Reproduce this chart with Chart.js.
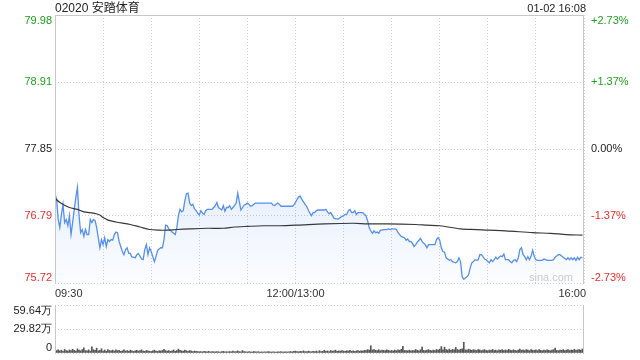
<!DOCTYPE html>
<html>
<head>
<meta charset="utf-8">
<script src="https://cdn.jsdelivr.net/npm/chart.js@4.4.1/dist/chart.umd.min.js"></script>
<style>
  html, body { margin: 0; padding: 0; background: #fff; }
  #wrap { position: relative; width: 640px; height: 360px; font-family: "Liberation Sans", Arial, "Noto Sans CJK SC", sans-serif; color: #222; }
  #priceChart { position: absolute; left: 0; top: 0; }
  #volChart { position: absolute; left: 0; top: 300px; }
  #title { position: absolute; left: 55px; top: 1px; font-size: 12px; line-height: 14px; }
  #stamp { position: absolute; right: 54px; top: 2px; font-size: 11px; line-height: 13px; }
</style>
</head>
<body>
<div id="wrap">
  <canvas id="priceChart" width="640" height="300"></canvas>
  <canvas id="volChart" width="640" height="60"></canvas>
  <div id="title">02020 安踏体育</div>
  <div id="stamp">01-02 16:08</div>
</div>
<script>
// minute by minute from 09:30 (lunch break removed), 330 minutes to 16:00
const prices = [
  77.14,77.05,76.73,76.60,76.81,76.97,76.68,76.73,76.63,76.79,
  76.49,76.68,76.89,77.08,77.24,76.79,76.52,76.57,76.46,76.57,
  76.49,76.49,76.73,76.68,76.73,76.71,76.60,76.44,76.28,76.41,
  76.33,76.44,76.30,76.41,76.38,76.41,76.40,76.49,76.53,76.52,
  76.38,76.30,76.22,76.17,76.25,76.28,76.19,76.19,76.13,76.13,
  76.12,76.17,76.19,76.15,76.10,76.09,76.25,76.33,76.17,76.28,
  76.22,76.14,76.06,76.14,76.24,76.26,76.28,76.28,76.41,76.64,
  76.63,76.58,76.56,76.53,76.51,76.49,76.60,76.79,76.89,76.85,
  76.87,77.03,77.14,77.15,76.99,76.95,76.97,76.90,76.87,76.83,
  76.80,76.87,76.83,76.81,76.87,76.89,76.89,76.89,76.89,76.92,
  76.95,77.00,76.92,76.90,76.88,76.95,76.86,76.92,76.92,76.95,
  76.89,76.92,76.95,76.99,77.15,77.01,76.88,76.92,76.96,76.97,
  76.99,76.97,76.94,76.95,76.97,76.99,76.99,76.99,76.99,76.99,
  76.99,76.99,76.99,76.99,76.99,76.99,76.96,76.95,76.97,76.99,
  76.97,76.94,76.94,76.94,76.94,76.94,76.94,76.94,76.94,76.96,
  77.00,77.05,77.09,77.10,77.05,77.01,76.97,76.94,76.88,76.83,
  76.79,76.84,76.84,76.87,76.88,76.88,76.88,76.88,76.88,76.89,
  76.85,76.82,76.84,76.80,76.75,76.74,76.74,76.74,76.76,76.78,
  76.79,76.81,76.81,76.87,76.89,76.84,76.84,76.87,76.81,76.84,
  76.84,76.84,76.84,76.81,76.79,76.71,76.60,76.55,76.51,76.55,
  76.52,76.53,76.51,76.56,76.56,76.57,76.57,76.57,76.58,76.57,
  76.58,76.58,76.58,76.57,76.52,76.49,76.46,76.45,76.44,76.40,
  76.42,76.38,76.38,76.35,76.30,76.33,76.37,76.40,76.43,76.38,
  76.35,76.33,76.28,76.33,76.33,76.33,76.33,76.33,76.41,76.44,
  76.40,76.28,76.22,76.21,76.12,76.10,76.08,76.09,76.06,76.05,
  76.04,76.06,76.12,76.06,75.82,75.78,75.80,75.82,75.85,75.96,
  76.04,76.06,76.09,76.08,76.09,76.17,76.17,76.14,76.10,76.09,
  76.06,76.04,76.09,76.06,76.09,76.13,76.10,76.13,76.15,76.14,
  76.18,76.09,76.09,76.09,76.06,76.04,76.08,76.09,76.06,76.12,
  76.25,76.28,76.17,76.14,76.09,76.14,76.09,76.15,76.24,76.14,
  76.09,76.08,76.08,76.08,76.08,76.10,76.09,76.08,76.08,76.08,
  76.08,76.09,76.13,76.15,76.17,76.17,76.15,76.13,76.11,76.09,
  76.12,76.09,76.12,76.09,76.12,76.08,76.13,76.09,76.13,76.12
];

// average price line, read at a few minutes
const avgMinutes = [0,3,9,14,18,24,28,30,33,38,47,53,59,65,70,76,84,95,105,112,120,130,140,151,168,186,195,207,225,232,240,253,263,270,281,298,309,319,329];
const avgPrices = [77.07,77.00,76.92,76.89,76.85,76.83,76.80,76.76,76.72,76.69,76.65,76.61,76.57,76.56,76.56,76.57,76.58,76.59,76.59,76.61,76.62,76.63,76.63,76.64,76.66,76.67,76.66,76.66,76.65,76.64,76.63,76.58,76.57,76.56,76.55,76.52,76.51,76.49,76.48];

// volume per minute, in 万 shares
const volumes = [
  5.2,3.1,4.0,2.6,3.5,2.2,4.4,3.0,2.5,3.8,
  2.9,4.6,3.3,2.4,5.1,3.6,2.8,4.2,6.5,3.0,
  2.7,3.9,2.3,7.8,4.1,3.2,6.0,2.6,3.4,5.3,
  2.5,3.7,2.2,4.3,3.1,2.8,3.6,2.4,4.0,2.9,
  3.3,2.1,2.7,3.8,2.5,3.0,2.2,3.5,2.6,2.0,
  2.8,3.4,2.3,2.9,3.9,2.4,2.1,3.1,2.6,2.2,
  1.9,2.7,3.6,2.3,2.0,2.8,2.5,3.2,4.5,2.9,
  2.4,3.0,2.1,2.6,3.8,2.2,2.9,4.8,3.3,2.7,
  2.3,3.6,2.8,2.0,3.1,2.5,1.9,2.4,2.2,1.8,
  1.6,1.9,1.4,2.2,1.7,1.5,2.0,1.3,1.8,1.6,
  1.4,1.9,1.5,1.2,1.7,2.1,1.4,1.6,1.3,1.8,
  1.5,2.3,1.6,1.9,2.6,1.7,1.4,3.0,1.8,1.5,
  1.3,1.7,1.4,1.2,1.9,1.5,1.3,1.6,1.1,1.4,
  1.2,1.5,1.3,1.8,1.4,1.2,1.6,1.3,1.1,1.5,
  1.3,1.7,1.2,1.4,1.6,1.3,1.5,1.9,1.4,2.2,
  2.4,1.8,1.5,2.1,1.7,2.6,1.9,1.6,2.3,1.8,
  1.5,2.0,1.7,2.4,1.6,2.9,1.8,2.2,3.4,2.0,
  2.6,1.9,3.1,2.3,2.8,3.6,2.2,2.7,2.4,3.0,
  2.5,2.1,2.9,2.4,3.3,2.2,2.7,2.0,2.6,3.1,
  2.3,2.8,2.5,3.4,2.9,4.2,3.6,9.0,3.8,4.4,
  3.5,3.0,4.1,2.8,3.6,3.2,2.9,3.9,3.3,2.7,
  3.1,2.6,3.5,2.9,4.0,3.4,4.6,8.3,3.2,3.0,
  2.8,3.5,2.6,3.1,2.9,4.3,3.4,2.7,3.9,7.5,
  3.2,2.9,3.6,4.1,3.3,2.8,3.7,3.0,4.4,3.5,
  4.8,8.0,3.9,7.2,4.2,3.6,4.9,3.4,4.5,3.8,
  7.0,4.3,3.7,4.6,5.2,13.3,4.0,3.5,4.8,3.9,
  3.3,4.2,3.6,3.1,4.4,3.8,2.9,3.5,4.1,3.2,
  2.8,3.7,3.3,4.5,3.0,3.6,2.7,3.9,3.4,4.2,
  3.1,3.8,2.9,4.6,3.5,3.0,4.0,3.3,2.8,3.7,
  4.9,3.4,3.9,3.1,4.3,3.6,2.9,4.1,3.5,3.2,
  3.8,3.0,4.4,3.3,2.8,3.6,3.1,4.0,3.4,2.9,
  3.5,4.1,6.0,3.2,2.8,3.7,3.3,4.2,3.0,3.6,
  4.4,3.1,3.8,3.4,4.7,3.2,3.9,4.3,3.6,5.0,
  4.6
];

const prevClose = 77.85;
const priceTicks = [79.98, 78.91, 77.85, 76.79, 75.72];
const pctLabels = ['+2.73%', '+1.37%', '0.00%', '-1.37%', '-2.73%'];
const timeTicks = [0, 150, 330];
const timeLabels = ['09:30', '12:00/13:00', '16:00'];
const volTicks = [59.64, 29.82, 0];
const volLabels = ['59.64万', '29.82万', '0'];

const FONT = '"Liberation Sans", Arial, sans-serif';
const GREEN = '#1f9f1f';
const RED = '#ee2b2b';
const DARK = '#222';
const FRAME = '#c8c8c8';
const GRID = '#cfcfcf';

const priceText = {
  id: 'priceText',
  afterDraw(chart) {
    const {ctx, chartArea: a, scales: {x, y}} = chart;
    ctx.save();
    ctx.strokeStyle = FRAME;
    ctx.lineWidth = 1;
    ctx.beginPath();
    ctx.moveTo(a.left + 0.5, a.bottom);
    ctx.lineTo(a.left + 0.5, a.top + 0.5);
    ctx.lineTo(a.right - 0.5, a.top + 0.5);
    ctx.lineTo(a.right - 0.5, a.bottom);
    ctx.stroke();

    ctx.font = '11px ' + FONT;
    priceTicks.forEach((v, i) => {
      const py = y.getPixelForValue(v);
      ctx.textBaseline = i === 0 ? 'top' : (i === priceTicks.length - 1 ? 'bottom' : 'middle');
      ctx.fillStyle = v > prevClose + 0.001 ? GREEN : (v < prevClose - 0.001 ? RED : DARK);
      ctx.textAlign = 'right';
      ctx.fillText(v.toFixed(2), a.left - 3, py);
      ctx.textAlign = 'left';
      ctx.fillText(pctLabels[i], a.right + 7, py);
    });

    ctx.fillStyle = '#333';
    ctx.textBaseline = 'top';
    timeTicks.forEach((t, i) => {
      ctx.textAlign = i === 0 ? 'left' : (i === timeTicks.length - 1 ? 'right' : 'center');
      ctx.fillText(timeLabels[i], x.getPixelForValue(t) + (i === timeTicks.length - 1 ? 2 : 0), a.bottom + 5);
    });

    ctx.fillStyle = '#cccccc';
    ctx.textAlign = 'right';
    ctx.textBaseline = 'bottom';
    ctx.fillText('sina.com', a.right - 11, a.bottom);
    ctx.restore();
  }
};

const volText = {
  id: 'volText',
  afterDraw(chart) {
    const {ctx, chartArea: a, scales: {y}} = chart;
    ctx.save();
    ctx.strokeStyle = FRAME;
    ctx.lineWidth = 1;
    ctx.beginPath();
    ctx.moveTo(a.left + 0.5, a.top);
    ctx.lineTo(a.left + 0.5, a.bottom);
    ctx.moveTo(a.right - 0.5, a.top);
    ctx.lineTo(a.right - 0.5, a.bottom);
    ctx.stroke();
    ctx.font = '11px ' + FONT;
    ctx.fillStyle = DARK;
    ctx.textAlign = 'right';
    volTicks.forEach((v, i) => {
      ctx.textBaseline = i === 0 ? 'top' : (i === volTicks.length - 1 ? 'bottom' : 'middle');
      ctx.fillText(volLabels[i], a.left - 3, y.getPixelForValue(v));
    });
    ctx.restore();
  }
};

new Chart(document.getElementById('priceChart'), {
  type: 'line',
  data: {
    datasets: [{
      label: 'avg',
      data: avgMinutes.map((m, i) => ({x: m, y: avgPrices[i]})),
      borderColor: '#383838',
      borderWidth: 1.2,
      pointRadius: 0,
      fill: false,
      tension: 0.3
    }, {
      label: 'price',
      data: prices.map((p, i) => ({x: i, y: p})),
      borderColor: '#5590ee',
      borderWidth: 1.3,
      pointRadius: 0,
      tension: 0,
      fill: 'start',
      backgroundColor: (c) => {
        const chart = c.chart;
        const a = chart.chartArea;
        if (!a) return 'rgba(85,144,238,0.08)';
        const g = chart.ctx.createLinearGradient(0, chart.scales.y.getPixelForValue(77.3), 0, a.bottom);
        g.addColorStop(0, 'rgba(85,144,238,0.15)');
        g.addColorStop(1, 'rgba(85,144,238,0.02)');
        return g;
      }
    }]
  },
  options: {
    responsive: false,
    animation: false,
    layout: {padding: {top: 15}},
    plugins: {legend: {display: false}, tooltip: {enabled: false}},
    scales: {
      x: {
        type: 'linear', min: 0, max: 330,
        ticks: {display: false, stepSize: 30},
        grid: {color: GRID, drawTicks: false},
        border: {display: false, dash: [1, 2]},
        afterFit: s => { s.height = 17; }
      },
      y: {
        min: 75.72, max: 79.98,
        afterBuildTicks: s => { s.ticks = priceTicks.map(v => ({value: v})); },
        ticks: {display: false},
        grid: {color: GRID, drawTicks: false},
        border: {display: false, dash: [1, 2]},
        afterFit: s => { s.width = 55; }
      },
      yr: {
        position: 'right', min: 75.72, max: 79.98,
        ticks: {display: false},
        grid: {display: false},
        border: {display: false},
        afterFit: s => { s.width = 56; }
      }
    }
  },
  plugins: [priceText]
});

new Chart(document.getElementById('volChart'), {
  type: 'bar',
  data: {
    datasets: [{
      data: volumes.map((v, i) => ({x: i, y: v})),
      backgroundColor: '#555',
      barThickness: 1
    }]
  },
  options: {
    responsive: false,
    animation: false,
    layout: {padding: {top: 5, right: 56, bottom: 7}},
    plugins: {legend: {display: false}, tooltip: {enabled: false}},
    scales: {
      x: {type: 'linear', min: 0, max: 330, offset: false, display: false},
      y: {
        min: 0, max: 59.64,
        afterBuildTicks: s => { s.ticks = volTicks.map(v => ({value: v})); },
        ticks: {display: false},
        grid: {color: GRID, drawTicks: false},
        border: {display: false, dash: [1, 2]},
        afterFit: s => { s.width = 55; }
      }
    }
  },
  plugins: [volText]
});
</script>
</body>
</html>
